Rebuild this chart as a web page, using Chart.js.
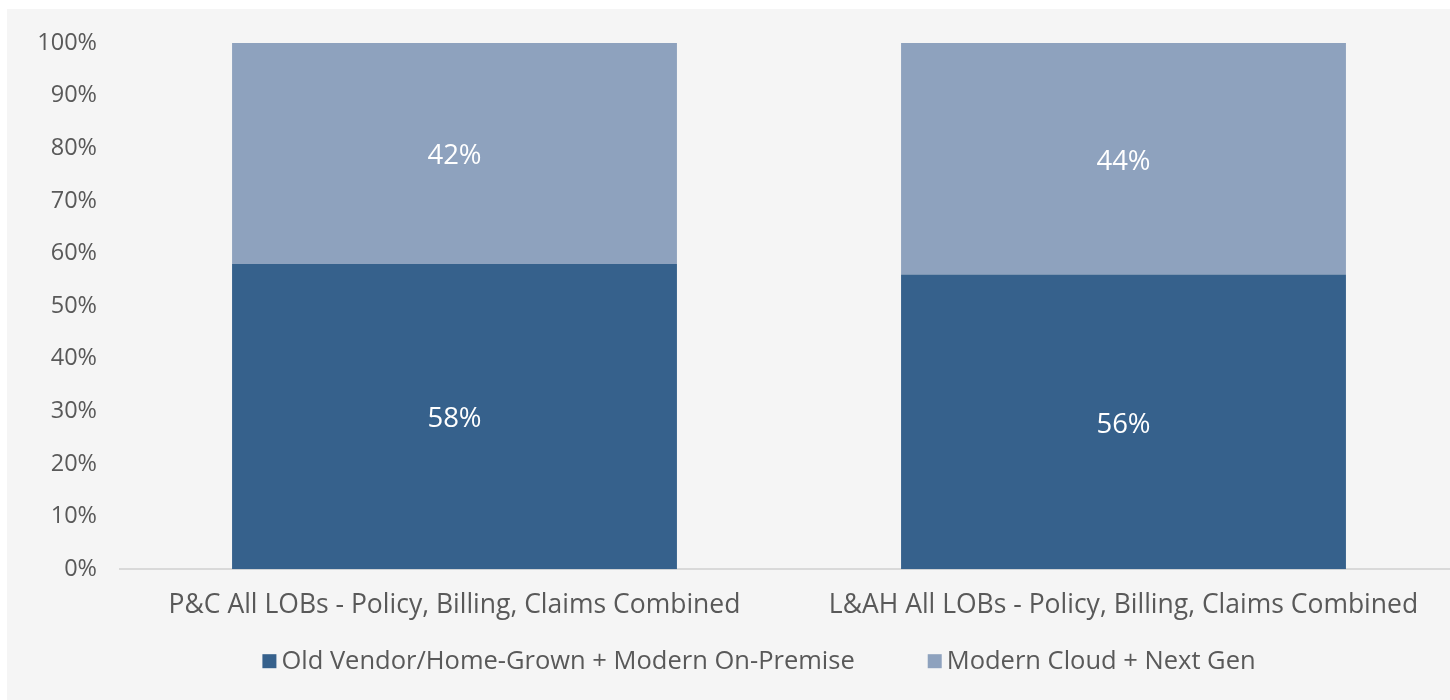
<!DOCTYPE html>
<html>
<head>
<meta charset="utf-8">
<script src="https://cdn.jsdelivr.net/npm/chart.js@4"></script>
<style>
  body { margin: 0; background: #ffffff; overflow: hidden; }
  #panel { position: absolute; left: 7px; top: 9px; width: 1443px; height: 691px; background: #f5f5f5; overflow: hidden; }
</style>
</head>
<body>
<div id="panel"><canvas id="chart" width="1451" height="691"></canvas></div>
<script>
// Catégories et séries
const categories = ['P&C All LOBs - Policy, Billing, Claims Combined', 'L&AH All LOBs - Policy, Billing, Claims Combined'];
const oldVendor = [58, 56];
const modernCloud = [42, 44];
const seriesNames = ['Old Vendor/Home-Grown + Modern On-Premise', 'Modern Cloud + Next Gen'];
const yTicks = [0, 10, 20, 30, 40, 50, 60, 70, 80, 90, 100];

const FONT = '"Open Sans", sans-serif';
const TEXT_COLOR = '#595959';

// Étiquettes de valeur au centre de chaque segment
const valueLabels = {
  id: 'valueLabels',
  afterDatasetsDraw(chart) {
    const ctx = chart.ctx;
    ctx.save();
    ctx.fillStyle = '#ffffff';
    ctx.font = '27.5px ' + FONT;
    ctx.textAlign = 'center';
    ctx.textBaseline = 'middle';
    chart.data.datasets.forEach((ds, i) => {
      chart.getDatasetMeta(i).data.forEach((bar, j) => {
        const p = bar.getProps(['x', 'y', 'base'], true);
        ctx.fillText(ds.data[j] + '%', p.x, (p.y + p.base) / 2 + 3);
      });
    });
    ctx.restore();
  }
};

// Légende dessinée à la main (écart large entre les deux entrées)
const bottomLegend = {
  id: 'bottomLegend',
  afterDraw(chart) {
    const ctx = chart.ctx;
    const box = 14, gapText = 5, gapItem = 73;
    ctx.save();
    ctx.font = '25.5px ' + FONT;
    ctx.textBaseline = 'middle';
    const items = chart.data.datasets.map(ds => ({
      text: ds.label,
      color: ds.backgroundColor,
      w: box + gapText + ctx.measureText(ds.label).width
    }));
    const total = items.reduce((s, it) => s + it.w, 0) + gapItem * (items.length - 1);
    let x = 752 - total / 2;
    const y = chart.chartArea.bottom + 92;
    items.forEach(it => {
      ctx.fillStyle = it.color;
      ctx.fillRect(x, y - box / 2, box, box);
      ctx.fillStyle = TEXT_COLOR;
      ctx.fillText(it.text, x + box + gapText, y + 1);
      x += it.w + gapItem;
    });
    ctx.restore();
  }
};

new Chart(document.getElementById('chart'), {
  type: 'bar',
  data: {
    labels: categories,
    datasets: [{
      label: seriesNames[0],
      data: oldVendor,
      backgroundColor: '#36618c'
    }, {
      label: seriesNames[1],
      data: modernCloud,
      backgroundColor: '#8ea2be'
    }]
  },
  options: {
    responsive: false,
    animation: false,
    layout: { padding: { top: 34, right: 0, bottom: 67, left: 0 } },
    datasets: { bar: { barPercentage: 0.665, categoryPercentage: 1 } },
    scales: {
      x: {
        stacked: true,
        grid: { display: false },
        border: { display: true, color: '#d9d9d9', width: 2 },
        ticks: { color: TEXT_COLOR, font: { family: FONT, size: 26.5 }, padding: 12, maxRotation: 0 }
      },
      y: {
        stacked: true,
        min: 0,
        max: 100,
        afterBuildTicks: (s) => { s.ticks = yTicks.map(v => ({ value: v })); },
        afterFit: (s) => { s.width = 113; },
        grid: { display: false },
        border: { display: false },
        ticks: {
          color: TEXT_COLOR,
          font: { family: FONT, size: 23.5 },
          padding: 15,
          callback: (v) => v + '%'
        }
      }
    },
    plugins: {
      legend: { display: false },
      tooltip: { enabled: false }
    }
  },
  plugins: [valueLabels, bottomLegend]
});
</script>
</body>
</html>
